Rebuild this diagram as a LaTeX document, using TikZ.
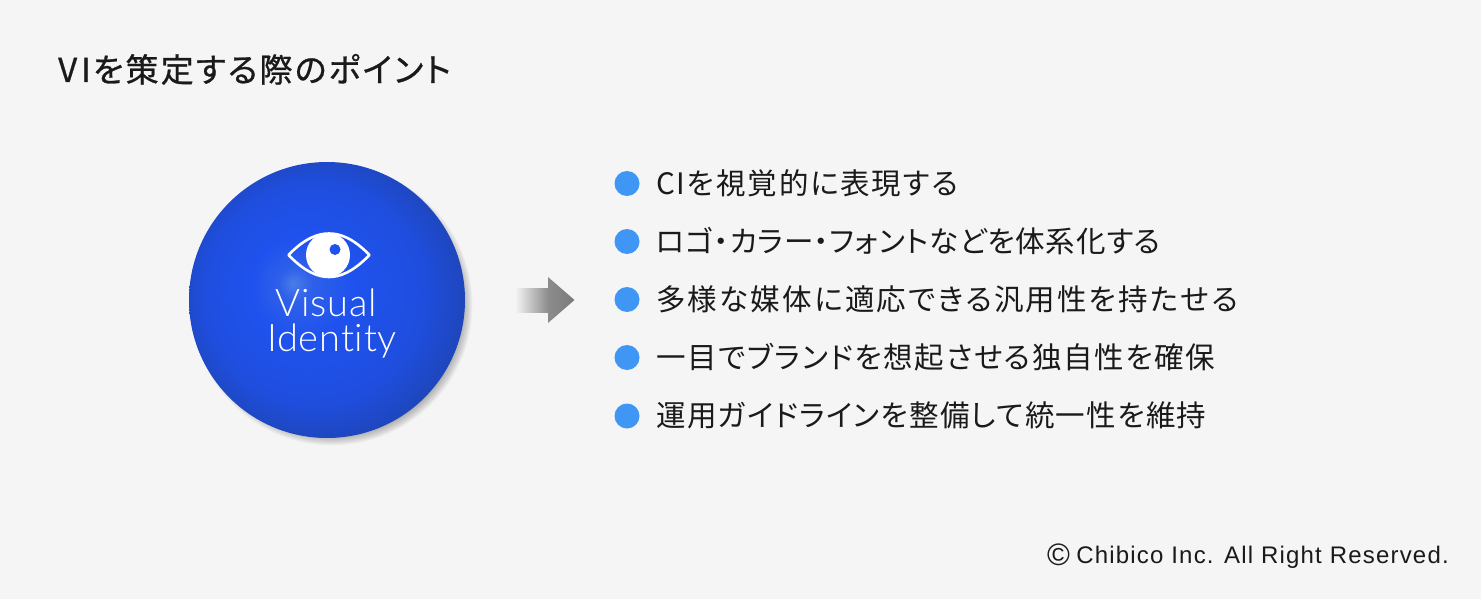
\documentclass[tikz,border=0pt]{standalone}
\usepackage{fontspec}
\newfontfamily\listfonta[LetterSpace=6.2,RawFeature={+palt}]{Noto Sans CJK JP}
\newfontfamily\listfontb[LetterSpace=2.8,RawFeature={+palt}]{Noto Sans CJK JP}
\newfontfamily\listfontc[LetterSpace=7.6,RawFeature={+palt}]{Noto Sans CJK JP}
\newfontfamily\listfontd[LetterSpace=5.6,RawFeature={+palt}]{Noto Sans CJK JP}
\newfontfamily\listfonte[LetterSpace=4.5,RawFeature={+palt}]{Noto Sans CJK JP}
\newfontfamily\titlefont[LetterSpace=6.5,FakeBold=0.8,RawFeature={+palt}]{Noto Sans CJK JP}
\newfontfamily\vifont[LetterSpace=2,Ligatures=NoCommon]{Lato Light}
\newfontfamily\footfont[LetterSpace=5]{Liberation Sans}
\definecolor{bgc}{HTML}{F5F5F5}
\definecolor{bulletc}{HTML}{4096F5}
\definecolor{ballblue}{HTML}{1F52EE}
\definecolor{inkc}{HTML}{1A1A1A}
\definecolor{ba}{HTML}{4A7CE8}
\definecolor{bb}{HTML}{2F60EA}
\definecolor{bc}{HTML}{1F52EE}
\definecolor{bd}{HTML}{1F4EDE}
\definecolor{be}{HTML}{1E45B8}
\definecolor{bf}{HTML}{1C3D9A}
\definecolor{arrowa}{HTML}{8C8C8C}
\definecolor{arrowb}{HTML}{7A7A7A}
\pgfdeclareradialshading{ballshade}{\pgfpoint{-6.2bp}{3.1bp}}{
 color(0bp)=(ba);
 color(3bp)=(bb);
 color(9bp)=(bc);
 color(20bp)=(bd);
 color(27bp)=(be);
 color(33bp)=(bf)}
\tikzset{
 bulletdot/.style={circle,fill=bulletc,minimum size=25pt,inner sep=0pt},
 itemtext/.style={anchor=base west,inner sep=0pt,text=inkc},
 vitext/.style={anchor=base,inner sep=0pt,text=white,font=\fontsize{38}{38}\selectfont\vifont},
}
\newcommand{\itemsize}{\fontsize{29.5}{29.5}\selectfont}
\begin{document}
\begin{tikzpicture}[x=1pt,y=-1pt]
\useasboundingbox (0,0) rectangle (1481,599);
\fill[bgc] (0,0) rectangle (1481,599);
\node[anchor=base west,inner sep=0pt,text=inkc,font=\fontsize{33}{33}\selectfont\titlefont] (title) at (58,82) {V\kern 4pt Iを策定する際のポイント};
% shadow
\foreach \r in {0,1,...,11}{
 \fill[black,opacity=0.028] (332,305) circle ({140.5-\r*0.9});
}
% ball
\shade[shading=ballshade] (327,300) circle (138);
% eye
\draw[white,line width=2.6pt,line join=round,fill=none] (288.5,255) .. controls (305,238) and (318,233.5) .. (329,233.5) .. controls (340,233.5) and (353,238) .. (369.5,255) .. controls (353,272) and (340,277) .. (329,277) .. controls (318,277) and (305,272) .. (288.5,255) -- cycle;
\fill[white] (328,255) circle (22);
\fill[ballblue] (335,249.5) circle (5.5);
\node[vitext] (vis) at (326,316) {Visual};
\node[vitext] (ide) at (332,351) {Identity};
% arrow
\shade[left color=bgc,right color=arrowa,draw=none] (515,288) rectangle (548.2,312);
\shade[left color=arrowa,right color=arrowb,draw=none] (548,277) -- (574.5,300) -- (548,323) -- cycle;
% bullets and items
\node[bulletdot] (b1) at (627,183.5) {};
\node[bulletdot] (b2) at (627,241.5) {};
\node[bulletdot] (b3) at (627,299.5) {};
\node[bulletdot] (b4) at (627,357.5) {};
\node[bulletdot] (b5) at (627,416) {};
\node[itemtext,font=\itemsize\listfonta] (t1) at (656,194) {CIを視覚的に表現する};
\node[itemtext,font=\itemsize\listfontb] (t2) at (656,252) {ロゴ・カラー・フォントなどを体系化する};
\node[itemtext,font=\itemsize\listfontc] (t3) at (656,310) {多様な媒体に適応できる汎用性を持たせる};
\node[itemtext,font=\itemsize\listfontd] (t4) at (656,368) {一目でブランドを想起させる独自性を確保};
\node[itemtext,font=\itemsize\listfonte] (t5) at (656,426) {運用ガイドラインを整備して統一性を維持};
\node[anchor=base east,inner sep=0pt,text=inkc,font=\fontsize{24}{24}\selectfont\footfont] (foot) at (1449,563) {Chibico Inc. All Right Reserved.};
\node[anchor=base,inner sep=0pt,text=inkc,font=\fontsize{31}{31}\selectfont\footfont] (copy) at (1058.5,565) {©};
\end{tikzpicture}
\end{document}
